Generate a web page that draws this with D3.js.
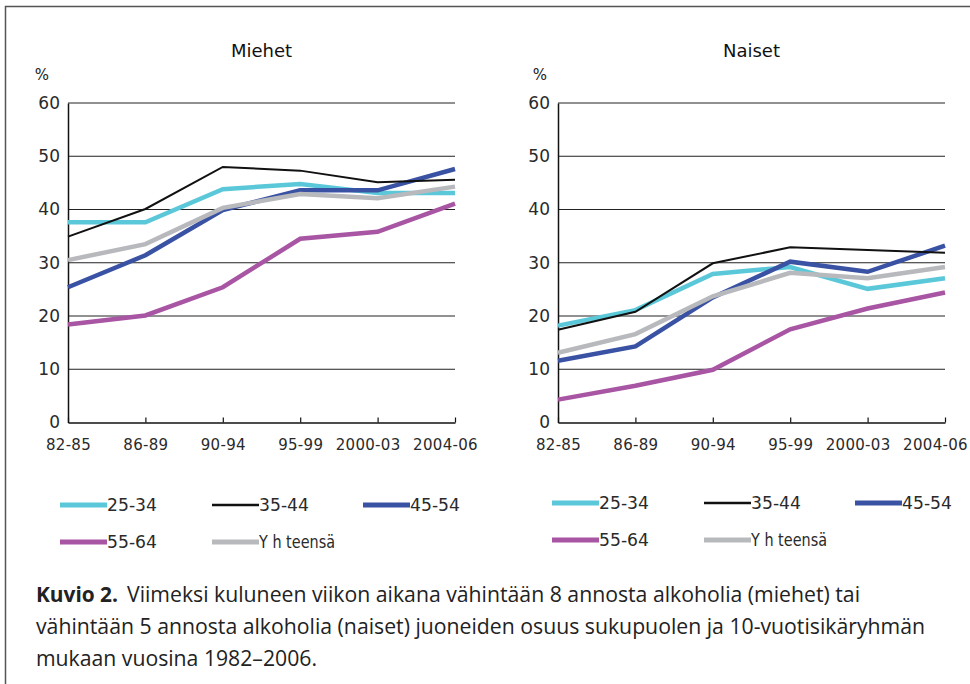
<!DOCTYPE html>
<html>
<head>
<meta charset="utf-8">
<script src="https://cdn.jsdelivr.net/npm/d3@7"></script>
<style>
  body { margin: 0; background: #fff; }
  svg { display: block; }
</style>
</head>
<body>
<div id="chart"></div>
<script>
const width = 970;
const height = 684;

// data
const periods = ['82-85', '86-89', '90-94', '95-99', '2000-03', '2004-06'];
const yTicks = [0, 10, 20, 30, 40, 50, 60];
const legendLabels = ['25-34', '35-44', '45-54', '55-64', 'Y h teensä'];

const miehet2534 = [37.6, 37.6, 43.8, 44.8, 43.1, 43.1];
const miehet3544 = [34.9, 40.1, 48.0, 47.3, 45.1, 45.6];
const miehet4554 = [25.4, 31.4, 39.9, 43.6, 43.6, 47.6];
const miehet5564 = [18.4, 20.1, 25.4, 34.5, 35.8, 41.1];
const miehetYht = [30.5, 33.5, 40.3, 42.9, 42.1, 44.3];

const naiset2534 = [18.2, 21.1, 27.9, 29.2, 25.1, 27.1];
const naiset3544 = [17.4, 20.8, 29.9, 32.9, 32.4, 31.9];
const naiset4554 = [11.6, 14.3, 23.5, 30.2, 28.3, 33.2];
const naiset5564 = [4.3, 6.9, 9.9, 17.5, 21.4, 24.4];
const naisetYht = [13.1, 16.6, 23.7, 28.1, 27.1, 29.2];

const colors = ['#5bc8d9', '#111111', '#3a52a3', '#a855a3', '#b8b9bd'];
const strokeWidths = [4.5, 2, 4.5, 4.5, 4.5];
const drawOrder = [0, 2, 4, 3, 1];

const panels = [
  { title: 'Miehet', left: 68, right: 455, pctX: 42, series: [miehet2534, miehet3544, miehet4554, miehet5564, miehetYht],
    legCols: [60, 212, 363], legRows: [505, 542] },
  { title: 'Naiset', left: 558, right: 945, pctX: 540, series: [naiset2534, naiset3544, naiset4554, naiset5564, naisetYht],
    legCols: [552, 704, 855], legRows: [503, 540] }
];

const plotTop = 103;
const plotBottom = 422.5;
const numFont = '"DejaVu Sans", sans-serif';

const svg = d3.select('#chart')
  .append('svg')
  .attr('width', width)
  .attr('height', height);

// frame
svg.append('path')
  .attr('d', 'M5.5,' + height + ' V6.5 H' + width)
  .attr('fill', 'none')
  .attr('stroke', '#555')
  .attr('stroke-width', 1.5);

const yScale = d3.scaleLinear().domain([0, 60]).range([plotBottom, plotTop]);

panels.forEach(function (p) {
  const g = svg.append('g');
  const xScale = d3.scalePoint().domain(periods).range([p.left, p.right]);

  g.append('text')
    .attr('x', (p.left + p.right) / 2)
    .attr('y', 57)
    .attr('text-anchor', 'middle')
    .style('font-family', numFont)
    .style('font-size', '18px')
    .style('fill', '#111')
    .text(p.title);

  g.append('text')
    .attr('x', p.pctX)
    .attr('y', 80)
    .attr('text-anchor', 'middle')
    .style('font-family', numFont)
    .style('font-size', '15px')
    .style('fill', '#222')
    .text('%');

  // gridlines
  g.selectAll('.grid')
    .data(yTicks.filter(d => d > 0))
    .enter()
    .append('line')
    .attr('x1', p.left)
    .attr('x2', p.right)
    .attr('y1', d => yScale(d))
    .attr('y2', d => yScale(d))
    .attr('stroke', '#222')
    .attr('stroke-width', 1);

  // y axis
  const yAxis = d3.axisLeft(yScale).tickValues(yTicks).tickSize(0).tickPadding(8);
  const ya = g.append('g')
    .attr('transform', 'translate(' + p.left + ',0)')
    .call(yAxis);
  ya.select('.domain').attr('stroke', '#111').attr('stroke-width', 1.5);
  ya.selectAll('text')
    .style('font-family', numFont)
    .style('font-size', '17px')
    .style('fill', '#2a2a2a');

  // x axis
  const xAxis = d3.axisBottom(xScale).tickSizeInner(-5).tickSizeOuter(0).tickPadding(17);
  const xa = g.append('g')
    .attr('transform', 'translate(0,' + plotBottom + ')')
    .call(xAxis);
  xa.select('.domain').attr('stroke', '#111').attr('stroke-width', 1.5);
  xa.selectAll('line').attr('stroke', '#111').attr('stroke-width', 1.2);
  xa.selectAll('text')
    .attr('dx', d => d.length > 5 ? -10 : 0)
    .style('font-family', numFont)
    .style('font-size', '15px')
    .style('letter-spacing', '0.3px')
    .style('fill', '#2a2a2a');

  // lines
  const line = d3.line()
    .x((d, i) => xScale(periods[i]))
    .y(d => yScale(d));

  drawOrder.forEach(function (k) {
    g.append('path')
      .datum(p.series[k])
      .attr('d', line)
      .attr('fill', 'none')
      .attr('stroke', colors[k])
      .attr('stroke-width', strokeWidths[k])
      .attr('stroke-linejoin', 'miter');
  });

  // legend
  legendLabels.forEach(function (label, k) {
    const lx = p.legCols[k % 3];
    const ly = p.legRows[Math.floor(k / 3)];
    g.append('line')
      .attr('x1', lx)
      .attr('x2', lx + 47)
      .attr('y1', ly)
      .attr('y2', ly)
      .attr('stroke', colors[k])
      .attr('stroke-width', k === 1 ? 2.5 : 5);
    const t = g.append('text')
      .attr('x', lx + 47)
      .attr('y', ly)
      .attr('dy', '0.36em')
      .style('font-family', numFont)
      .style('font-size', '17px')
      .style('fill', '#2a2a2a')
      .text(label);
    if (k === 4) t.attr('textLength', 76).attr('lengthAdjust', 'spacingAndGlyphs');
    else t.attr('textLength', 50).attr('lengthAdjust', 'spacingAndGlyphs');
  });
});

// caption
const capFont = '"Open Sans", sans-serif';
const caption = svg.append('g').style('font-family', capFont).style('font-size', '22px').style('fill', '#222');

caption.append('text')
  .attr('x', 36).attr('y', 602)
  .style('font-weight', 'bold')
  .attr('textLength', 82).attr('lengthAdjust', 'spacingAndGlyphs')
  .text('Kuvio 2.');
caption.append('text')
  .attr('x', 127).attr('y', 602)
  .attr('textLength', 733).attr('lengthAdjust', 'spacingAndGlyphs')
  .text('Viimeksi kuluneen viikon aikana vähintään 8 annosta alkoholia (miehet) tai');
caption.append('text')
  .attr('x', 36).attr('y', 634)
  .attr('textLength', 889).attr('lengthAdjust', 'spacingAndGlyphs')
  .text('vähintään 5 annosta alkoholia (naiset) juoneiden osuus sukupuolen ja 10-vuotisikäryhmän');
caption.append('text')
  .attr('x', 36).attr('y', 666)
  .attr('textLength', 281).attr('lengthAdjust', 'spacingAndGlyphs')
  .text('mukaan vuosina 1982–2006.');
</script>
</body>
</html>
